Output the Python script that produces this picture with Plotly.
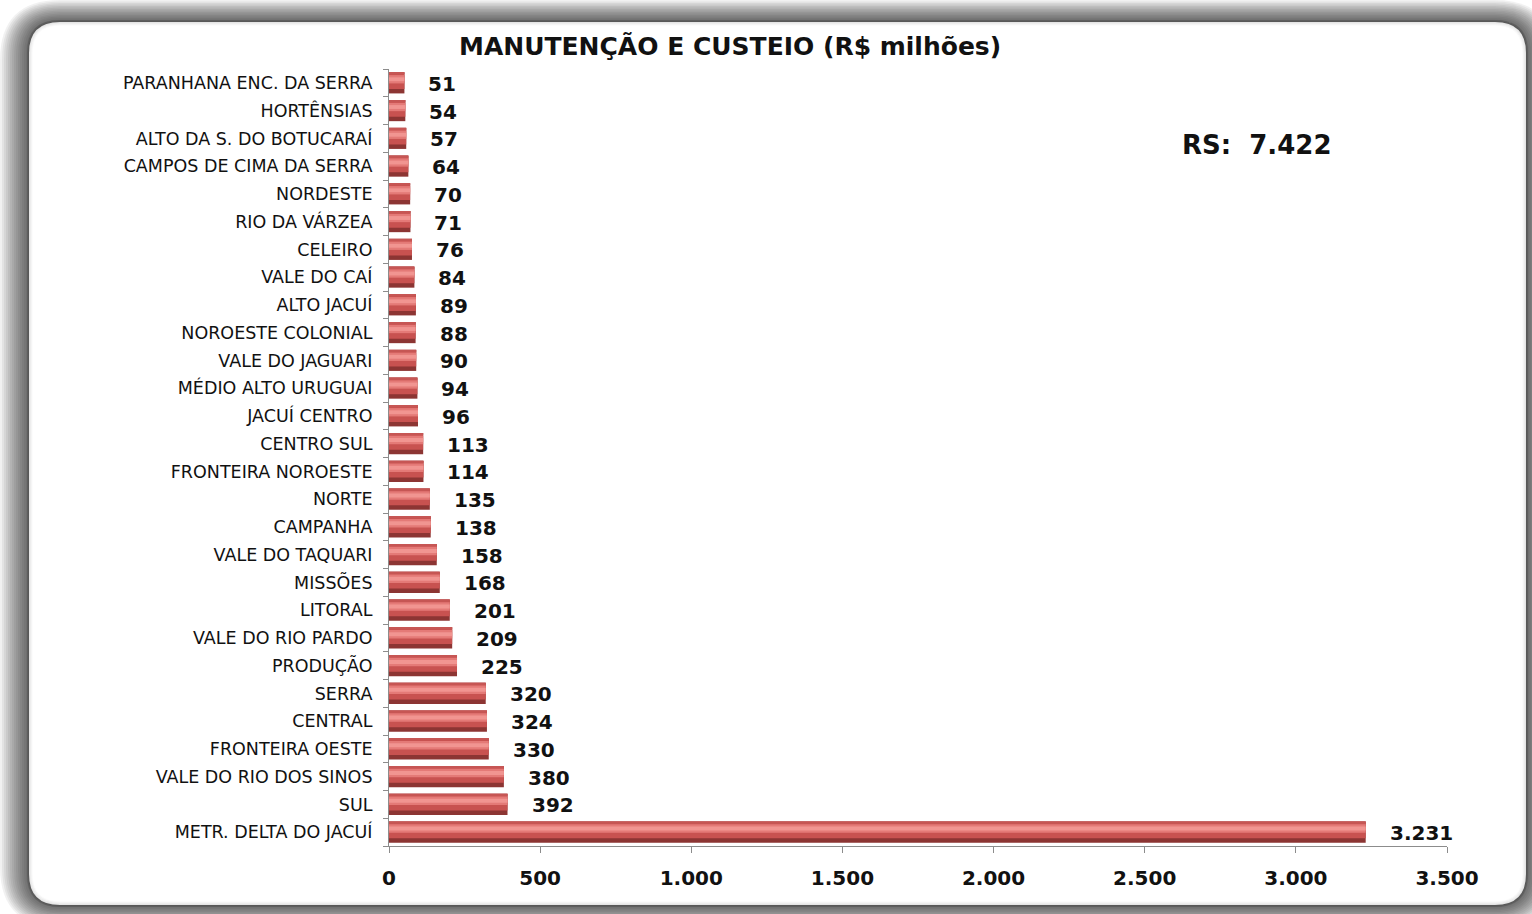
import plotly.graph_objects as go

# Regions, listed from the top of the chart to the bottom
regions = [
    "PARANHANA ENC. DA SERRA", "HORTÊNSIAS", "ALTO DA S. DO BOTUCARAÍ",
    "CAMPOS DE CIMA DA SERRA", "NORDESTE", "RIO DA VÁRZEA", "CELEIRO",
    "VALE DO CAÍ", "ALTO JACUÍ", "NOROESTE COLONIAL", "VALE DO JAGUARI",
    "MÉDIO ALTO URUGUAI", "JACUÍ CENTRO", "CENTRO SUL", "FRONTEIRA NOROESTE",
    "NORTE", "CAMPANHA", "VALE DO TAQUARI", "MISSÕES", "LITORAL",
    "VALE DO RIO PARDO", "PRODUÇÃO", "SERRA", "CENTRAL", "FRONTEIRA OESTE",
    "VALE DO RIO DOS SINOS", "SUL", "METR. DELTA DO JACUÍ",
]
values = [
    51, 54, 57, 64, 70, 71, 76, 84, 89, 88, 90, 94, 96, 113, 114,
    135, 138, 158, 168, 201, 209, 225, 320, 324, 330, 380, 392, 3231,
]
x_ticks = [0, 500, 1000, 1500, 2000, 2500, 3000, 3500]

title = "MANUTENÇÃO E CUSTEIO (R$ milhões)"

# Plot from the bottom up so the first region ends up at the top
cats = regions[::-1]
vals = values[::-1]

FONT = "DejaVu Sans"


def br(n):
    return f"{n:,}".replace(",", ".")


W, H = 1532, 914
ML, MR, MT, MB = 389, 85, 69, 68
PW, PH = W - ML - MR, H - MT - MB


def px(x):
    return (x - ML) / PW


def py(y):
    return (H - MB - y) / PH


def rounded_rect(x0, y0, x1, y1, r):
    pts = [
        f"M {px(x0 + r)},{py(y0)}",
        f"L {px(x1 - r)},{py(y0)}",
        f"Q {px(x1)},{py(y0)} {px(x1)},{py(y0 + r)}",
        f"L {px(x1)},{py(y1 - r)}",
        f"Q {px(x1)},{py(y1)} {px(x1 - r)},{py(y1)}",
        f"L {px(x0 + r)},{py(y1)}",
        f"Q {px(x0)},{py(y1)} {px(x0)},{py(y1 - r)}",
        f"L {px(x0)},{py(y0 + r)}",
        f"Q {px(x0)},{py(y0)} {px(x0 + r)},{py(y0)}",
        "Z",
    ]
    return " ".join(pts)


fig = go.Figure()

# Bevelled bars built from stacked bands: dark base, body, highlight, top edge
bands = [
    ("#8C3533", -0.38, 0.76),
    ("#C85250", -0.22, 0.60),
    ("#E47A77", -0.02, 0.30),
    ("#F19591", 0.06, 0.14),
    ("#C65654", 0.32, 0.06),
]
for color, off, wid in bands:
    fig.add_trace(go.Bar(
        x=vals, y=cats, orientation="h",
        offset=off, width=wid,
        marker=dict(color=color, line=dict(width=0)),
        hoverinfo="skip", showlegend=False,
    ))

# Value labels to the right of each bar
for c, v in zip(cats, vals):
    fig.add_annotation(
        x=v, y=c, text=br(v), showarrow=False,
        xanchor="left", yanchor="middle", xshift=22, yshift=-1,
        font=dict(family=FONT, size=20, color="#111111", weight="bold"),
    )

# Frame: soft shadow layers, then the white rounded panel
shapes = []
for i in range(14, 0, -1):
    shapes.append(dict(
        type="path", xref="paper", yref="paper", layer="below",
        path=rounded_rect(28 - 2 * i, 21 - 1.5 * i, 1527 + 2 * i, 906 + 1.5 * i, 32 + 2 * i),
        fillcolor="rgba(0,0,0,0.055)", line=dict(width=0),
    ))
shapes.append(dict(
    type="path", xref="paper", yref="paper", layer="below",
    path=rounded_rect(28, 21, 1527, 906, 32),
    fillcolor="#ffffff", line=dict(color="#5e5e5e", width=2),
))
for i in range(1, 5):
    shapes.append(dict(
        type="path", xref="paper", yref="paper", layer="below",
        path=rounded_rect(28 + i, 21 + i, 1527 - i, 906 - i, 32 - i),
        fillcolor="rgba(0,0,0,0)", line=dict(color=f"rgba(0,0,0,{0.10 - 0.02 * i:.2f})", width=1.5),
    ))

fig.add_annotation(
    x=px(730), y=py(47), xref="paper", yref="paper", text=title,
    showarrow=False, xanchor="center", yanchor="middle",
    font=dict(family=FONT, size=25, color="#111111", weight="bold"),
)
fig.add_annotation(
    x=px(1180), y=py(145), xref="paper", yref="paper",
    text=f"RS:  {br(sum(values))}",
    showarrow=False, xanchor="left", yanchor="middle",
    font=dict(family=FONT, size=26, color="#111111", weight="bold"),
)

fig.update_layout(
    width=W, height=H,
    margin=dict(l=ML, r=MR, t=MT, b=MB, autoexpand=False),
    paper_bgcolor="#ffffff", plot_bgcolor="rgba(0,0,0,0)",
    barmode="overlay", separators=",.",
    shapes=shapes,
    xaxis=dict(
        range=[0, 3500], tickvals=x_ticks, ticktext=[br(t) for t in x_ticks],
        showgrid=False, zeroline=False, showline=True, linecolor="#8c8c8c", linewidth=1,
        ticks="outside", ticklen=6, tickcolor="#8c8c8c", ticklabelstandoff=8,
        tickfont=dict(family=FONT, size=20, color="#111111", weight="bold"),
        fixedrange=True,
    ),
    yaxis=dict(
        type="category", categoryorder="array", categoryarray=cats,
        range=[-0.5, len(cats) - 0.5],
        showgrid=False, zeroline=False, showline=True, linecolor="#8c8c8c", linewidth=1,
        ticks="outside", ticklen=5, tickcolor="#8c8c8c", tickson="boundaries",
        ticklabelstandoff=12,
        tickfont=dict(family=FONT, size=17.5, color="#111111"),
        fixedrange=True,
    ),
)

fig.write_html("out.html")
